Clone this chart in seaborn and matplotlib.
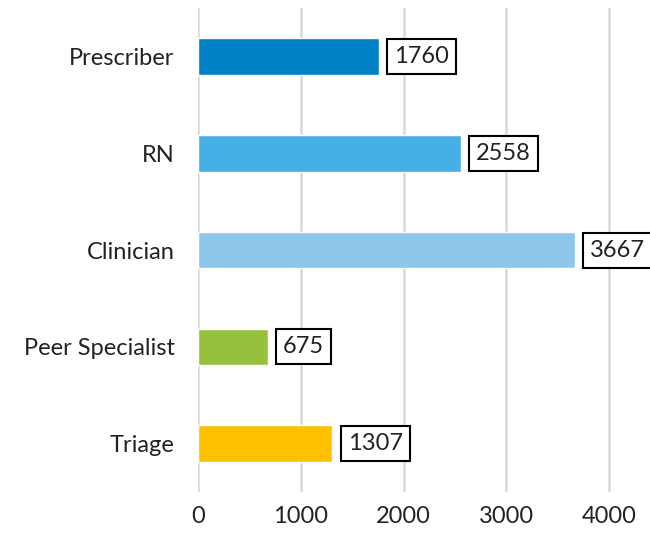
import matplotlib.pyplot as plt
import pandas as pd
import seaborn as sns

categories = ["Prescriber", "RN", "Clinician", "Peer Specialist", "Triage"]
values = [1760, 2558, 3667, 675, 1307]
colors = ["#0080C6", "#45B0E5", "#8DC8EC", "#96C13D", "#FFC000"]
x_ticks = [0, 1000, 2000, 3000, 4000]

sns.set_theme(style="white")
plt.rcParams["font.family"] = ["Lato", "DejaVu Sans"]

df = pd.DataFrame({"role": categories, "count": values})

fig = plt.figure(figsize=(6.5, 5.39), dpi=100)
ax = fig.add_axes([0.305, 0.087, 0.695, 0.898])

sns.barplot(data=df, y="role", x="count", hue="role", palette=colors,
            order=categories, legend=False, width=0.38, ax=ax, saturation=1)

for i, v in enumerate(values):
    ax.text(v + 150, i, f"{v}", ha="left", va="center", fontsize=17, color="#222222",
            bbox=dict(boxstyle="square,pad=0.3", facecolor="white", edgecolor="black", linewidth=1.5))

ax.set_xlim(0, 4400)
ax.set_ylim(4.5, -0.5)
ax.set_xticks(x_ticks)
ax.xaxis.grid(True, color="#D9D9D9", linewidth=1.8)
ax.set_axisbelow(True)
ax.set_xlabel("")
ax.set_ylabel("")
ax.tick_params(axis="both", length=0, labelsize=17, colors="#222222")
ax.tick_params(axis="y", pad=17)
ax.tick_params(axis="x", pad=10)
for s in ax.spines.values():
    s.set_visible(False)

fig.savefig("out.png", dpi=100)
